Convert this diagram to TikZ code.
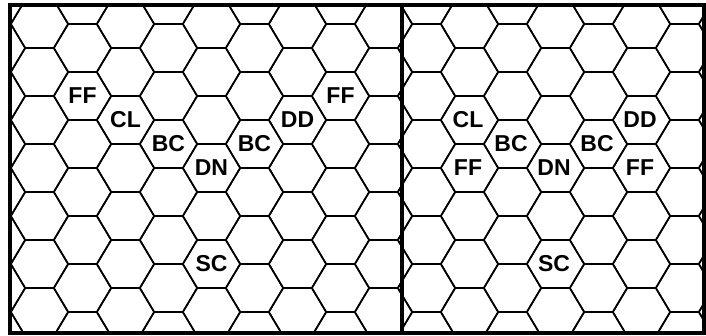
\documentclass[tikz,border=0pt]{standalone}
\usepackage{fontspec}
\setmainfont{Liberation Sans}
\usetikzlibrary{positioning}
\tikzset{
    % grid and frame styles
    hexline/.style={line width=1.6pt, black, line join=miter},
    frameline/.style={line width=4pt, black},
    hexlabel/.style={font=\fontsize{23}{23}\selectfont\bfseries, inner sep=0pt}
}

\begin{document}
\begin{tikzpicture}[x=1pt,y=-1pt]
    \useasboundingbox (0,0) rectangle (706,335);

    % Hex grid (flat top), clipped to the frame
    \begin{scope}
        \clip (9.5,5) rectangle (703.5,333);
        \foreach \i in {-1,...,16} {
            \pgfmathsetmacro{\cx}{39.5+43*\i}
            \pgfmathsetmacro{\cy}{24+24*mod(\i+2,2)}
            \foreach \j in {-1,...,7} {
                \draw[hexline] (\cx+28.667,\cy+48*\j) -- ++(-14.333,24) -- ++(-28.667,0)
                    -- ++(-14.333,-24) -- ++(14.333,-24) -- ++(28.667,0) -- cycle;
            }
        }
    \end{scope}

    % Frame and divider
    \draw[frameline] (9.5,5) rectangle (703.5,333);
    \draw[frameline] (401.5,5) -- (401.5,333);

    % Left panel
    \node[hexlabel] at (82.5,96) (ffa) {FF};
    \node[hexlabel] at (125.5,120) (cla) {CL};
    \node[hexlabel] at (168.5,144) (bca) {BC};
    \node[hexlabel] at (211.5,168) (dna) {DN};
    \node[hexlabel] at (254.5,144) (bcb) {BC};
    \node[hexlabel] at (297.5,120) (dda) {DD};
    \node[hexlabel] at (340.5,96) (ffb) {FF};
    \node[hexlabel] at (211.5,264) (sca) {SC};

    % Right panel
    \node[hexlabel] at (468,120) (clb) {CL};
    \node[hexlabel] at (468,168) (ffc) {FF};
    \node[hexlabel] at (511,144) (bcc) {BC};
    \node[hexlabel] at (554,168) (dnb) {DN};
    \node[hexlabel] at (597,144) (bcd) {BC};
    \node[hexlabel] at (640,120) (ddb) {DD};
    \node[hexlabel] at (640,168) (ffd) {FF};
    \node[hexlabel] at (554,264) (scb) {SC};
\end{tikzpicture}
\end{document}
